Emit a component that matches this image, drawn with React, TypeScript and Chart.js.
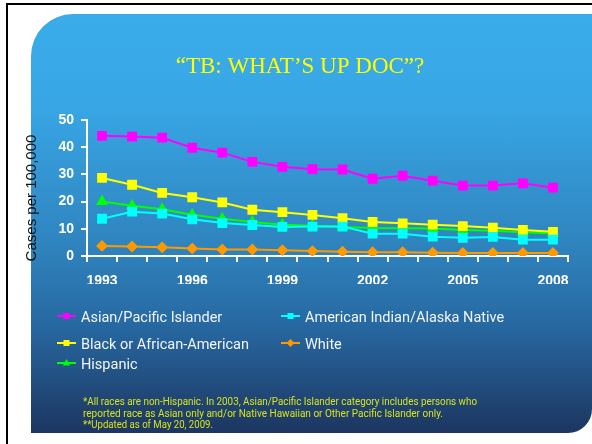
import React, { useEffect, useRef } from 'react';
import { Chart, registerables } from 'chart.js';

Chart.register(...registerables);

const years = ['1993', '1994', '1995', '1996', '1997', '1998', '1999', '2000', '2001', '2002', '2003', '2004', '2005', '2006', '2007', '2008'];
const shownYearLabels = ['1993', '1996', '1999', '2002', '2005', '2008'];

const asianPacific = [44.2, 43.9, 43.5, 39.8, 38.0, 34.6, 32.8, 31.9, 31.8, 28.4, 29.5, 27.7, 25.9, 25.9, 26.7, 25.1];
const americanIndian = [13.7, 16.3, 15.6, 13.5, 12.1, 11.4, 10.7, 10.8, 10.8, 8.2, 8.2, 7.1, 6.7, 7.0, 6.0, 6.0];
const blackAfrican = [28.7, 26.2, 23.2, 21.6, 19.7, 17.0, 16.1, 15.1, 13.9, 12.5, 12.0, 11.5, 11.0, 10.4, 9.6, 8.9];
const white = [3.7, 3.5, 3.2, 2.8, 2.4, 2.4, 2.1, 1.8, 1.6, 1.4, 1.4, 1.2, 1.1, 1.1, 1.1, 1.1];
const hispanic = [20.0, 18.5, 17.2, 15.2, 13.7, 12.5, 11.5, 11.1, 10.7, 10.3, 10.2, 10.1, 9.6, 9.3, 8.7, 8.3];

const seriesLabels = ['Asian/Pacific Islander', 'American Indian/Alaska Native', 'Black or African-American', 'White', 'Hispanic'];

const titleText = '\u201CTB: WHAT\u2019S UP DOC\u201D?';
const yAxisTitle = 'Cases per 100,000';
const footnoteLines = [
  '*All races are non-Hispanic. In 2003, Asian/Pacific Islander category includes persons who',
  'reported race as Asian only and/or Native Hawaiian or Other Pacific Islander only.',
  '**Updated as of May 20, 2009.',
];

const W = 592;
const H = 444;

function drawMarker(ctx: CanvasRenderingContext2D, style: string, x: number, y: number, r: number, color: string) {
  ctx.fillStyle = color;
  ctx.beginPath();
  if (style === 'rect') {
    ctx.rect(x - r, y - r, 2 * r, 2 * r);
  } else if (style === 'rectRot') {
    ctx.moveTo(x, y - r * 1.3);
    ctx.lineTo(x + r * 1.3, y);
    ctx.lineTo(x, y + r * 1.3);
    ctx.lineTo(x - r * 1.3, y);
    ctx.closePath();
  } else {
    ctx.moveTo(x, y - r * 1.3);
    ctx.lineTo(x + r * 1.2, y + r * 0.8);
    ctx.lineTo(x - r * 1.2, y + r * 0.8);
    ctx.closePath();
  }
  ctx.fill();
}

export default function App() {
  const ref = useRef<HTMLCanvasElement>(null);

  useEffect(() => {
    document.body.style.margin = '0';
    const canvas = ref.current;
    if (!canvas) return;

    const overlay = {
      id: 'overlay',
      afterDraw(chart: any) {
        const ctx: CanvasRenderingContext2D = chart.ctx;
        ctx.save();
        // Title
        ctx.fillStyle = '#FFFF00';
        ctx.font = '23px "Liberation Serif", "Times New Roman", serif';
        ctx.textAlign = 'center';
        ctx.textBaseline = 'alphabetic';
        ctx.fillText(titleText, 300, 73);

        // Y axis title
        ctx.save();
        ctx.translate(36, 198);
        ctx.rotate(-Math.PI / 2);
        ctx.fillStyle = '#111111';
        ctx.font = '15px "Liberation Sans", Arial, sans-serif';
        ctx.textAlign = 'center';
        ctx.textBaseline = 'alphabetic';
        ctx.fillText(yAxisTitle, 0, 0);
        ctx.restore();

        // Legend
        const cols = [57, 281];
        const baselines = [322, 349, 369];
        const grid = [[0, 0], [1, 0], [0, 1], [1, 1], [0, 2]];
        chart.data.datasets.forEach((ds: any, i: number) => {
          const [c, r] = grid[i];
          const x0 = cols[c];
          const by = baselines[r];
          const cy = by - 6;
          ctx.strokeStyle = ds.borderColor;
          ctx.lineWidth = 2;
          ctx.beginPath();
          ctx.moveTo(x0, cy);
          ctx.lineTo(x0 + 19, cy);
          ctx.stroke();
          drawMarker(ctx, ds.pointStyle, x0 + 9.5, cy, 3, ds.borderColor);
          ctx.fillStyle = '#F2F6FA';
          ctx.font = '14.5px Roboto, "Liberation Sans", sans-serif';
          ctx.textAlign = 'left';
          ctx.textBaseline = 'alphabetic';
          ctx.fillText(ds.label, x0 + 24, by);
        });

        // Footnote
        ctx.fillStyle = '#D8E21E';
        ctx.font = '10px Roboto, "Liberation Sans", sans-serif';
        ctx.textAlign = 'left';
        const fnBase = [404.5, 416.5, 428];
        const fnMax = [394, 362, 130];
        footnoteLines.forEach((t, i) => ctx.fillText(t, 83, fnBase[i], fnMax[i]));
        ctx.restore();
      },
    };

    const tickFont = { family: '"Liberation Sans", Arial, sans-serif', size: 14, weight: 'bold' as const };

    const chart = new Chart(canvas, {
      type: 'line',
      data: {
        labels: years,
        datasets: [
          { label: seriesLabels[0], data: asianPacific, borderColor: '#FF00FF', backgroundColor: '#FF00FF', pointStyle: 'rect', pointRadius: 5.5, borderWidth: 2 },
          { label: seriesLabels[1], data: americanIndian, borderColor: '#00FFFF', backgroundColor: '#00FFFF', pointStyle: 'rect', pointRadius: 5.5, borderWidth: 2 },
          { label: seriesLabels[2], data: blackAfrican, borderColor: '#FFFF00', backgroundColor: '#FFFF00', pointStyle: 'rect', pointRadius: 5.5, borderWidth: 2 },
          { label: seriesLabels[3], data: white, borderColor: '#FF9900', backgroundColor: '#FF9900', pointStyle: 'rectRot', pointRadius: 4.5, borderWidth: 2 },
          { label: seriesLabels[4], data: hispanic, borderColor: '#00FF00', backgroundColor: '#00FF00', pointStyle: 'triangle', pointRadius: 5, borderWidth: 2 },
        ] as any,
      },
      options: {
        responsive: false,
        maintainAspectRatio: false,
        animation: false,
        layout: { padding: { left: 0, top: 120, right: 24, bottom: 160 } },
        plugins: {
          legend: { display: false },
          tooltip: { enabled: false },
          title: { display: false },
        },
        elements: { line: { tension: 0 } },
        scales: {
          x: {
            type: 'category',
            offset: true,
            grid: { offset: true, drawOnChartArea: false, drawTicks: true, tickLength: 6, color: '#FFFFFF', lineWidth: 2 },
            border: { display: true, color: '#FFFFFF', width: 2 },
            ticks: {
              color: '#FFFFFF',
              font: tickFont,
              autoSkip: false,
              maxRotation: 0,
              padding: 11,
              callback: (_v: any, i: number) => (shownYearLabels.includes(years[i]) ? years[i] : ''),
            },
            afterFit: (s: any) => { s.height = 28; },
          },
          y: {
            min: 0,
            max: 50,
            grid: { drawOnChartArea: false, drawTicks: true, tickLength: 6, color: '#FFFFFF', lineWidth: 2 },
            border: { display: true, color: '#FFFFFF', width: 2 },
            ticks: { stepSize: 10, color: '#FFFFFF', font: tickFont, padding: 7 },
            afterFit: (s: any) => { s.width = 87; },
          },
        },
      } as any,
      plugins: [overlay],
    });

    return () => chart.destroy();
  }, []);

  return (
    <div style={{ position: 'absolute', left: 0, top: 0, width: W, height: H, background: '#FFFFFF', overflow: 'hidden' }}>
      <div style={{ position: 'absolute', left: 6, top: 3, width: W, height: H, borderLeft: '2px solid #000', borderTop: '2px solid #000', boxSizing: 'border-box' }} />
      <div
        style={{
          position: 'absolute',
          left: 31,
          top: 14,
          width: W - 31,
          height: 419,
          borderRadius: '42px 0 24px 0',
          background: 'linear-gradient(to bottom, #3AACEA 0%, #38A6E5 22%, #2F84BE 55%, #2767A0 75%, #1C3660 100%)',
        }}
      />
      <canvas ref={ref} width={W} height={H} style={{ position: 'absolute', left: 0, top: 0, width: W, height: H }} />
    </div>
  );
}
